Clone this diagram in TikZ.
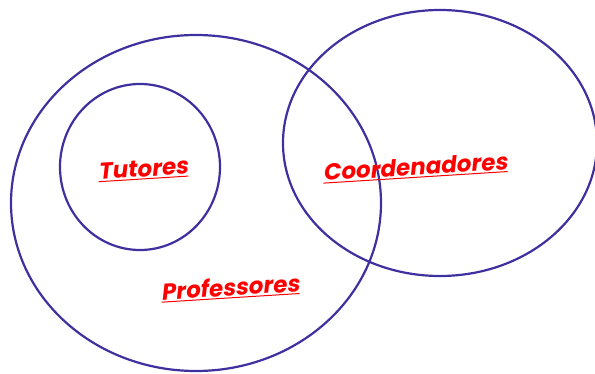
\documentclass[tikz,border=0pt]{standalone}
\usepackage{fontspec}
\newfontfamily\labfont[FakeSlant=0.18]{Poppins}
\definecolor{ring}{HTML}{3F30A0}
\definecolor{labred}{HTML}{FF0000}
\newcommand{\labul}[1]{\vtop{\hbox{#1}\kern1.5pt\hrule height 1pt}}
\tikzset{
  ring/.style={draw=ring, line width=2.2pt},
  setlabel/.style={text=labred, font=\labfont\bfseries\fontsize{23}{26}\selectfont, rotate=3.6, inner sep=0pt}
}
\begin{document}
\begin{tikzpicture}[x=1pt,y=-1pt]
\useasboundingbox (0,0) rectangle (595,374);
\draw[ring] (196,203) ellipse [x radius=185, y radius=168];
\draw[ring] (140,167) ellipse [x radius=80, y radius=83];
\draw[ring] (440,143) ellipse [x radius=157, y radius=133];
\node[setlabel] (tut) at (143,170) {\labul{Tutores}};
\node[setlabel] (coo) at (415,168) {\labul{Coordenadores}};
\node[setlabel] (pro) at (230,288) {\labul{Professores}};
\end{tikzpicture}
\end{document}
